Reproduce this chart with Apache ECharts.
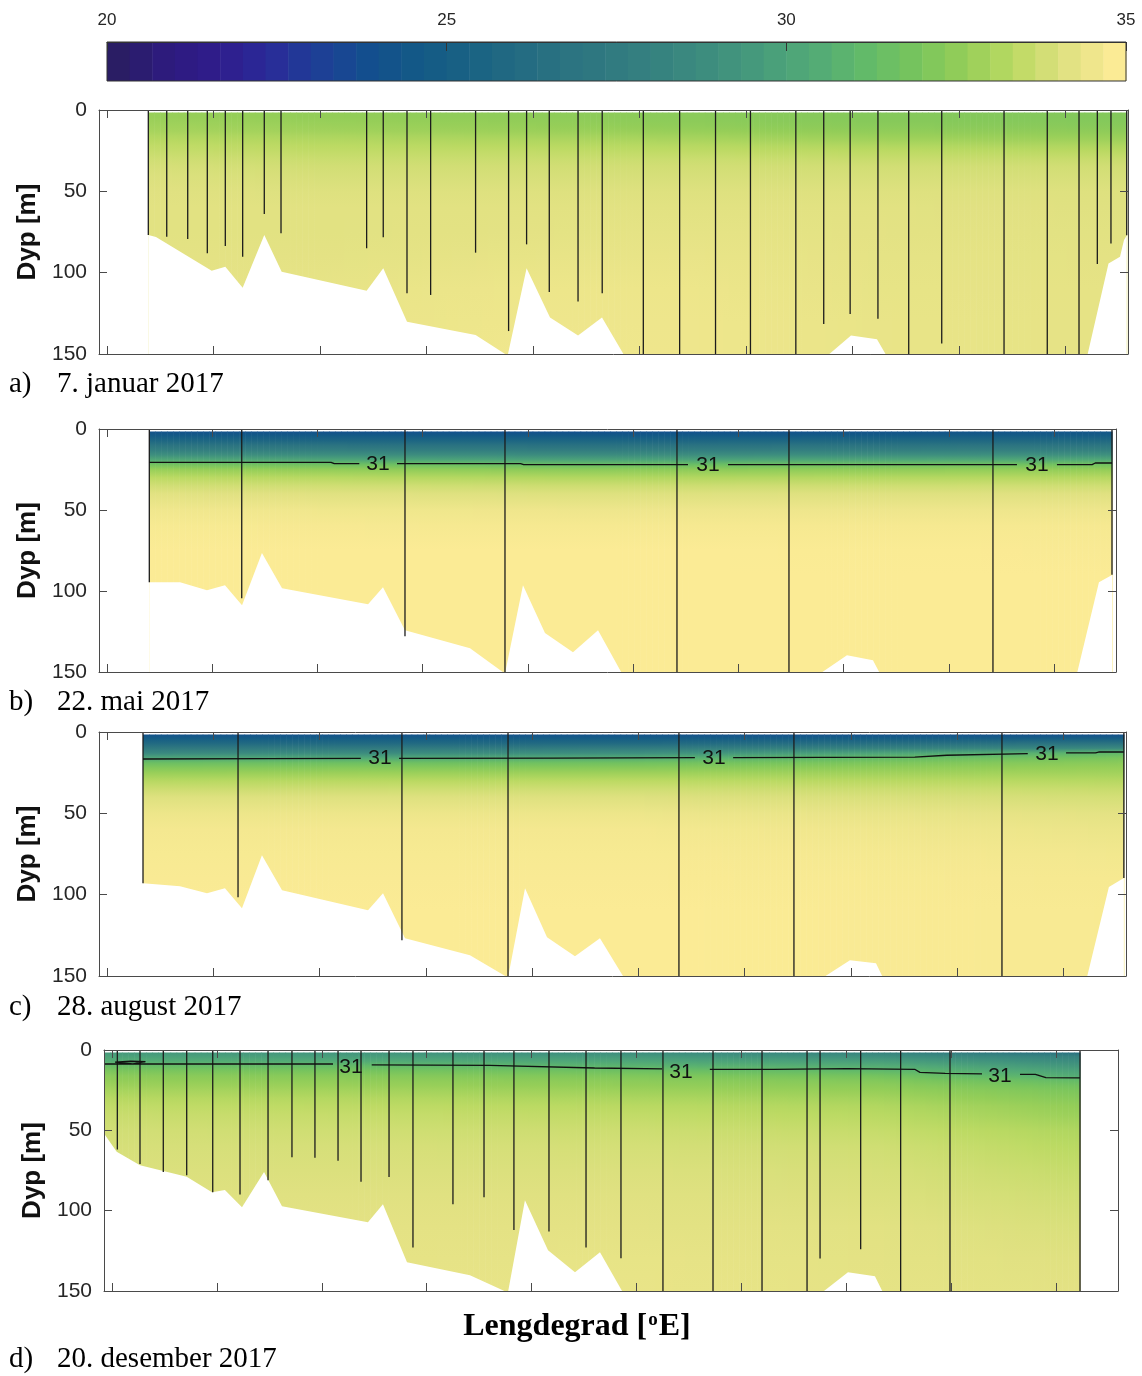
<!DOCTYPE html>
<html>
<head>
<meta charset="utf-8">
<script src="https://cdn.jsdelivr.net/npm/echarts@6/dist/echarts.min.js"></script>
<style>
  html, body { margin: 0; padding: 0; background: #fff; }
  #chart { width: 1142px; height: 1376px; }
</style>
</head>
<body>
<div id="chart"></div>
<script>
// x runs in "tick units" along the section (the longitude ticks carry no labels)
const X_MIN = 0.925;
const X_MAX = 10.587;
const xTicks = [1, 2, 3, 4, 5, 6, 7, 8, 9, 10];

// salinity levels are given at these depths (m)
const depthLevels = [1.5, 4, 7, 10, 13, 16, 19, 22, 25, 30, 35, 40, 50, 60, 75, 90, 110, 130, 151];

// --- a) 7. januar 2017
const colsA = [1.388, 3.0, 4.8, 6.5, 8.2, 10.575];
const salA = [
  [32.8, 32.8, 32.9, 33.0, 33.1, 33.3, 33.45, 33.6, 33.7, 33.9, 34.05, 34.15, 34.25, 34.3, 34.3, 34.35, 34.4, 34.4, 34.4],
  [32.7, 32.7, 32.8, 32.9, 33.0, 33.2, 33.35, 33.5, 33.6, 33.8, 33.95, 34.05, 34.2, 34.3, 34.3, 34.35, 34.45, 34.5, 34.5],
  [32.6, 32.6, 32.7, 32.8, 32.9, 33.1, 33.3, 33.45, 33.6, 33.8, 33.95, 34.05, 34.2, 34.3, 34.35, 34.45, 34.6, 34.65, 34.7],
  [32.5, 32.5, 32.55, 32.65, 32.8, 33.0, 33.2, 33.4, 33.55, 33.8, 33.95, 34.05, 34.2, 34.3, 34.4, 34.5, 34.6, 34.65, 34.65],
  [32.35, 32.35, 32.4, 32.5, 32.65, 32.85, 33.05, 33.3, 33.5, 33.75, 33.95, 34.05, 34.2, 34.3, 34.35, 34.4, 34.45, 34.5, 34.5],
  [32.3, 32.3, 32.35, 32.45, 32.6, 32.8, 33.0, 33.25, 33.45, 33.75, 33.95, 34.05, 34.2, 34.25, 34.3, 34.35, 34.4, 34.4, 34.4]
];
const bottomA = [[1.388, 76.8], [1.46, 78], [1.983, 98.8], [2.111, 96.3], [2.274, 109.2], [2.477, 76.8], [2.64, 99.4],
  [3.438, 111.1], [3.594, 97.3], [3.817, 130.1], [4.461, 138.3], [4.762, 151], [4.94, 97.3], [5.16, 127.5],
  [5.423, 138.7], [5.648, 127.5], [5.858, 151], [7.765, 151], [7.986, 138.7], [8.23, 141], [8.319, 151],
  [10.205, 151], [10.404, 94.3], [10.512, 90.2], [10.549, 80], [10.575, 77]];
const stationsA = [[1.388, 76.8], [1.561, 77.9], [1.758, 79.3], [1.942, 88.1], [2.111, 83.6], [2.274, 90.2],
  [2.477, 63.9], [2.634, 75.8], [3.438, 85], [3.594, 78.3], [3.817, 112.7], [4.039, 113.7], [4.461, 87.7],
  [4.771, 135.9], [4.94, 82.6], [5.153, 111.9], [5.423, 117.8], [5.65, 112.7], [6.036, 150], [6.377, 150],
  [6.714, 150], [7.042, 150], [7.468, 150], [7.73, 131.6], [7.978, 125.4], [8.239, 128.3], [8.528, 150],
  [8.838, 143.5], [9.423, 150], [9.829, 150], [10.127, 150], [10.299, 94.7], [10.427, 82], [10.575, 77]];

// --- b) 22. mai 2017
const colsB = [1.403, 5.5, 10.549];
const salB = [
  [24.0, 24.6, 25.6, 26.8, 27.8, 29.0, 30.3, 31.9, 32.8, 33.5, 33.95, 34.3, 34.7, 34.9, 35, 35, 35, 35, 35],
  [23.8, 24.5, 25.5, 26.6, 27.6, 28.8, 30.0, 31.5, 32.5, 33.3, 33.85, 34.2, 34.65, 34.85, 35, 35, 35, 35, 35],
  [24.2, 24.8, 25.8, 26.9, 27.9, 29.1, 30.4, 31.9, 32.7, 33.4, 33.9, 34.25, 34.65, 34.85, 34.95, 35, 35, 35, 35]
];
const bottomB = [[1.403, 94.6], [1.695, 94.6], [1.951, 99.5], [2.122, 96.4], [2.284, 108.8], [2.473, 76.6],
  [2.664, 98.3], [3.481, 108.2], [3.623, 97.7], [3.832, 124.2], [4.45, 135.4], [4.782, 151], [4.953, 96.4],
  [5.162, 126], [5.428, 137.8], [5.666, 124.2], [5.894, 151], [7.775, 151], [8.031, 139.7], [8.278, 142.8],
  [8.345, 151], [10.216, 151], [10.425, 94.6], [10.549, 90.2]];
const stationsB = [[1.403, 94.6], [2.281, 104.4], [3.832, 128], [4.782, 150], [6.416, 150], [7.48, 150],
  [9.418, 150], [10.549, 90]];
const iso31B = [[1.403, 20.6], [3.13, 20.6], [3.16, 21.4], [3.398, 21.4], [3.5, '-'], [3.756, 21.4], [4.93, 21.4],
  [4.96, 22.0], [6.521, 22.0], [6.7, '-'], [6.901, 22.0], [9.646, 22.0], [9.8, '-'], [10.026, 22.0],
  [10.36, 22.0], [10.39, 21.0], [10.549, 21.0]];
const labels31B = [[3.576, 21.8], [6.711, 22.6], [9.836, 22.6]];

// --- c) 28. august 2017
const colsC = [1.339, 6.0, 10.567];
const salC = [
  [24.0, 24.8, 26.0, 27.3, 28.6, 30.2, 31.6, 32.3, 32.8, 33.4, 33.85, 34.2, 34.6, 34.8, 34.9, 34.95, 35, 35, 35],
  [24.0, 24.8, 26.0, 27.6, 29.0, 30.6, 31.8, 32.4, 32.9, 33.5, 33.9, 34.2, 34.6, 34.8, 34.9, 34.95, 35, 35, 35],
  [23.9, 25.0, 26.8, 28.6, 31.2, 32.1, 32.5, 32.8, 33.0, 33.4, 33.75, 34.0, 34.35, 34.55, 34.75, 34.85, 34.9, 34.9, 34.9]
];
const bottomC = [[1.339, 93], [1.687, 94.9], [1.941, 99.2], [2.11, 96.1], [2.27, 108.4], [2.458, 75.8],
  [2.647, 97.3], [3.456, 109.6], [3.597, 99.2], [3.804, 126.8], [4.415, 137.3], [4.773, 151], [4.933, 96.1],
  [5.14, 126.2], [5.403, 137.9], [5.638, 126.8], [5.864, 151], [7.736, 151], [7.99, 140.3], [8.235, 142.2],
  [8.3, 151], [10.219, 151], [10.426, 95.3], [10.567, 89.7]];
const stationsC = [[1.339, 93], [2.233, 101.6], [3.775, 128], [4.773, 150], [6.381, 150], [7.463, 150],
  [9.42, 150], [10.567, 89.7]];
const iso31C = [[1.339, 16.6], [2.5, 16.4], [3.388, 16.2], [3.5, '-'], [3.748, 16.2], [5.2, 16.0], [6.531, 15.8],
  [6.7, '-'], [6.891, 15.8], [8.6, 15.5], [8.9, 14.3], [9.663, 13.3], [9.8, '-'], [10.023, 12.8],
  [10.3, 12.8], [10.33, 12.3], [10.567, 12.3]];
const labels31C = [[3.568, 16.2], [6.711, 16.0], [9.843, 13.6]];

// --- d) 20. desember 2017
const colsD = [0.925, 3.0, 6.0, 8.3, 10.225];
const salD = [
  [29.5, 30.0, 30.6, 31.5, 32.1, 32.5, 32.7, 32.9, 33.1, 33.4, 33.6, 33.75, 33.95, 34.05, 34.15, 34.2, 34.3, 34.35, 34.4],
  [29.3, 29.8, 30.5, 31.4, 32.0, 32.4, 32.65, 32.85, 33.05, 33.35, 33.55, 33.7, 33.9, 34.05, 34.15, 34.25, 34.35, 34.4, 34.45],
  [28.8, 29.5, 30.2, 30.9, 31.7, 32.2, 32.5, 32.7, 32.9, 33.2, 33.45, 33.6, 33.85, 34.0, 34.15, 34.25, 34.35, 34.45, 34.5],
  [28.2, 29.0, 29.8, 30.6, 31.2, 31.9, 32.3, 32.55, 32.75, 33.05, 33.3, 33.45, 33.7, 33.9, 34.05, 34.15, 34.3, 34.35, 34.4],
  [26.5, 28.0, 28.8, 29.4, 30.0, 30.5, 31.3, 31.8, 32.1, 32.4, 32.7, 32.85, 33.25, 33.45, 33.7, 33.9, 34.1, 34.25, 34.35]
];
const bottomD = [[0.925, 51.9], [1.046, 63.4], [1.268, 71.7], [1.713, 78.9], [1.954, 88.5], [2.077, 87.2],
  [2.24, 97.8], [2.45, 76], [2.621, 97.2], [3.44, 107.2], [3.583, 96], [3.812, 132.1], [4.412, 140.2],
  [4.774, 151], [4.936, 93.5], [5.156, 124.6], [5.413, 138.3], [5.651, 125.9], [5.87, 151], [7.766, 151],
  [8.014, 138.3], [8.271, 140.8], [8.348, 151], [10.225, 151]];
const stationsD = [[1.052, 62], [1.268, 71], [1.49, 76], [1.713, 78], [1.961, 88.5], [2.221, 90], [2.488, 81],
  [2.716, 66.7], [2.935, 67], [3.155, 69], [3.374, 82], [3.641, 79], [3.869, 123], [4.25, 96], [4.546, 91.6],
  [4.831, 112], [5.165, 113], [5.518, 123], [5.851, 129.6], [6.251, 150], [6.728, 150], [7.195, 150],
  [7.624, 150], [7.748, 129.8], [8.135, 124], [8.516, 150], [8.986, 150], [10.225, 150]];
const iso31D = [[1.03, 7.6], [1.18, 7.0], [1.32, 7.3], [1.33, 8.4], [1.2, 8.6], [1.1, 8.0], [1.03, 7.6], [1.0, '-'],
  [0.925, 8.7], [3.107, 8.7], [3.2, '-'], [3.476, 9.3], [4.6, 9.6], [5.6, 11.2], [6.242, 11.8], [6.4, '-'],
  [6.698, 12.0], [7.3, 12.0], [8.0, 11.6], [8.65, 12.0], [8.7, 13.9], [8.94, 14.6], [9.291, 14.8], [9.4, '-'],
  [9.653, 15.2], [9.8, 15.2], [9.9, 17.2], [10.225, 17.4]];
const labels31D = [[3.278, 10.6], [6.423, 13.7], [9.462, 16.2]];

const captions = [
  ['a)', '7. januar 2017'],
  ['b)', '22. mai 2017'],
  ['c)', '28. august 2017'],
  ['d)', '20. desember 2017']
];

// haline-like colormap, 20 -> 35
const cmapColors = ['#2a1d64', '#2d1b7e', '#2f1c8c', '#2a2a98', '#1e3f96', '#134e8e', '#135986', '#196283',
  '#226a82', '#2b7381', '#317b80', '#37847f', '#3e8f7e', '#489d7b', '#53ab76', '#62ba69', '#77c45d',
  '#95ce58', '#bcda63', '#e0e181', '#fbeb95'];
const S_MIN = 20;
const S_MAX = 35;
const N_BANDS = 45;
const colorAt = (s) => echarts.color.lerp(Math.min(1, Math.max(0, (s - S_MIN) / (S_MAX - S_MIN))), cmapColors);

const AX = '#4a4a4a';
const SANS = '"Liberation Sans", Arial, sans-serif';
const SERIF = '"Liberation Serif", "Times New Roman", serif';

const panelGrids = [
  { left: 99, top: 110, width: 1029, height: 244 },
  { left: 99, top: 429, width: 1017, height: 243 },
  { left: 99, top: 732, width: 1027, height: 244 },
  { left: 104, top: 1050, width: 1014, height: 241 }
];
const captionTops = [370, 688, 993, 1345];

const panels = [
  { cols: colsA, sal: salA, bottom: bottomA, stations: stationsA, iso: null, labels: [] },
  { cols: colsB, sal: salB, bottom: bottomB, stations: stationsB, iso: iso31B, labels: labels31B },
  { cols: colsC, sal: salC, bottom: bottomC, stations: stationsC, iso: iso31C, labels: labels31C },
  { cols: colsD, sal: salD, bottom: bottomD, stations: stationsD, iso: iso31D, labels: labels31D }
];

const xAxes = [];
const yAxes = [];
const series = [];

const xAxisFor = (g, position) => ({
  gridIndex: g, type: 'value', min: X_MIN, max: X_MAX, position, z: 10,
  axisLine: { show: true, onZero: false, lineStyle: { color: AX, width: 1 } },
  axisTick: { show: true, inside: true, length: 8, customValues: xTicks, lineStyle: { color: AX } },
  axisLabel: { show: false },
  splitLine: { show: false }
});

const yAxisFor = (g, position) => ({
  gridIndex: g, type: 'value', inverse: true, min: 0, max: 150, interval: 50, position, z: 10,
  axisLine: { show: true, onZero: false, lineStyle: { color: AX, width: 1 } },
  axisTick: { show: true, inside: true, length: 8, lineStyle: { color: AX } },
  axisLabel: position === 'left'
    ? { show: true, fontSize: 21, fontFamily: SANS, color: '#262626', margin: 12 }
    : { show: false },
  splitLine: { show: false },
  name: position === 'left' ? 'Dyp [m]' : '',
  nameLocation: 'middle',
  nameGap: 57,
  nameTextStyle: { fontSize: 26, fontWeight: 'bold', fontFamily: SANS, color: '#111' }
});

panels.forEach((p, g) => {
  xAxes.push(xAxisFor(g, 'bottom'), xAxisFor(g, 'top'));
  yAxes.push(yAxisFor(g, 'left'), yAxisFor(g, 'right'));
  const xi = 2 * g;

  // salinity field, shaded between the profile columns
  series.push({
    type: 'custom', xAxisIndex: xi, yAxisIndex: xi, clip: true, silent: true, z: 1,
    data: p.cols.slice(0, -1).map((c, i) => [c, p.cols[i + 1]]),
    renderItem: (params, api) => {
      const i = params.dataIndex;
      const top = depthLevels[0];
      const bot = depthLevels[depthLevels.length - 1];
      const pa = api.coord([p.cols[i], top]);
      const pb = api.coord([p.cols[i + 1], bot]);
      const n = Math.max(1, Math.round((pb[0] - pa[0]) / 6));
      const children = [];
      for (let s = 0; s < n; s++) {
        const t = (s + 0.5) / n;
        const xl = pa[0] + (pb[0] - pa[0]) * s / n;
        const xr = pa[0] + (pb[0] - pa[0]) * (s + 1) / n;
        const stops = depthLevels.map((d, k) => ({
          offset: (d - top) / (bot - top),
          color: colorAt(p.sal[i][k] * (1 - t) + p.sal[i + 1][k] * t)
        }));
        children.push({
          type: 'rect',
          shape: { x: xl, y: pa[1], width: xr - xl + 0.6, height: pb[1] - pa[1] },
          style: { fill: new echarts.graphic.LinearGradient(0, 0, 0, 1, stops) }
        });
      }
      return { type: 'group', children };
    }
  });

  // sea floor (white)
  series.push({
    type: 'custom', xAxisIndex: xi, yAxisIndex: xi, clip: true, silent: true, z: 2,
    data: [p.bottom[0]],
    renderItem: (params, api) => {
      const pts = p.bottom.map((b) => api.coord(b));
      pts.push(api.coord([p.bottom[p.bottom.length - 1][0], 170]));
      pts.push(api.coord([p.bottom[0][0], 170]));
      return { type: 'polygon', shape: { points: pts }, style: { fill: '#fff' } };
    }
  });

  // CTD stations
  series.push({
    type: 'custom', xAxisIndex: xi, yAxisIndex: xi, clip: true, silent: true, z: 3,
    data: p.stations,
    renderItem: (params, api) => {
      const p0 = api.coord([api.value(0), 0]);
      const p1 = api.coord([api.value(0), api.value(1)]);
      return {
        type: 'line',
        shape: { x1: p0[0], y1: p0[1], x2: p1[0], y2: p1[1] },
        style: { stroke: '#1c1c1c', lineWidth: 1.3 }
      };
    }
  });

  if (p.iso) {
    series.push({
      type: 'line', xAxisIndex: xi, yAxisIndex: xi, data: p.iso, symbol: 'none', showSymbol: false,
      connectNulls: false, silent: true, z: 4,
      lineStyle: { color: '#111', width: 1.3 }
    });
    series.push({
      type: 'custom', xAxisIndex: xi, yAxisIndex: xi, silent: true, z: 5,
      data: p.labels,
      renderItem: (params, api) => {
        const c = api.coord([api.value(0), api.value(1)]);
        return {
          type: 'text', x: c[0], y: c[1],
          style: { text: '31', font: '21px ' + SANS, fill: '#111', align: 'center', verticalAlign: 'middle' }
        };
      }
    });
  }
});

// colorbar
const cbIndex = panels.length;
const bandWidth = (S_MAX - S_MIN) / N_BANDS;
const bandStarts = Array.from({ length: N_BANDS }, (_, i) => S_MIN + i * bandWidth);
xAxes.push({
  gridIndex: cbIndex, type: 'value', min: S_MIN, max: S_MAX, interval: 5, position: 'top', z: 10,
  axisLine: { show: true, onZero: false, lineStyle: { color: '#333' } },
  axisTick: { show: true, inside: true, length: 9, lineStyle: { color: '#333' } },
  axisLabel: { show: true, fontSize: 17, fontFamily: SANS, color: '#262626', margin: 13 },
  splitLine: { show: false }
});
yAxes.push({ gridIndex: cbIndex, type: 'value', min: 0, max: 1, show: false });
series.push({
  type: 'custom', xAxisIndex: 2 * cbIndex, yAxisIndex: 2 * cbIndex, silent: true, z: 1,
  data: bandStarts,
  renderItem: (params, api) => {
    const v = api.value(0);
    const a = api.coord([v, 1]);
    const b = api.coord([v + bandWidth, 0]);
    return {
      type: 'rect',
      shape: { x: a[0], y: a[1], width: b[0] - a[0] + 0.5, height: b[1] - a[1] },
      style: { fill: colorAt(S_MIN + (S_MAX - S_MIN) * params.dataIndex / (N_BANDS - 1)) }
    };
  }
});

const grids = panelGrids.map((g) => ({ ...g, containLabel: false }));
grids.push({ left: 107, top: 42, width: 1019, height: 39, show: true, borderColor: '#333', borderWidth: 1, backgroundColor: 'transparent', z: 10 });

const graphics = [];
captions.forEach((c, i) => {
  graphics.push({ type: 'text', left: 9, top: captionTops[i], style: { text: c[0], font: '29px ' + SERIF, fill: '#000' } });
  graphics.push({ type: 'text', left: 57, top: captionTops[i], style: { text: c[1], font: '29px ' + SERIF, fill: '#000' } });
});
graphics.push({
  type: 'text', x: 577, y: 1327,
  style: {
    text: '{b|Lengdegrad [}{s|o}{b|E]}',
    align: 'center', verticalAlign: 'middle',
    rich: {
      b: { fontSize: 32, fontWeight: 'bold', fontFamily: SERIF, fill: '#000', color: '#000' },
      s: { fontSize: 19, fontWeight: 'bold', fontFamily: SERIF, fill: '#000', color: '#000', verticalAlign: 'top', padding: [0, 1, 14, 1] }
    }
  }
});

const chart = echarts.init(document.getElementById('chart'), null, { renderer: 'canvas' });
chart.setOption({
  backgroundColor: '#fff',
  animation: false,
  grid: grids,
  xAxis: xAxes,
  yAxis: yAxes,
  series,
  graphic: graphics
});
</script>
</body>
</html>
